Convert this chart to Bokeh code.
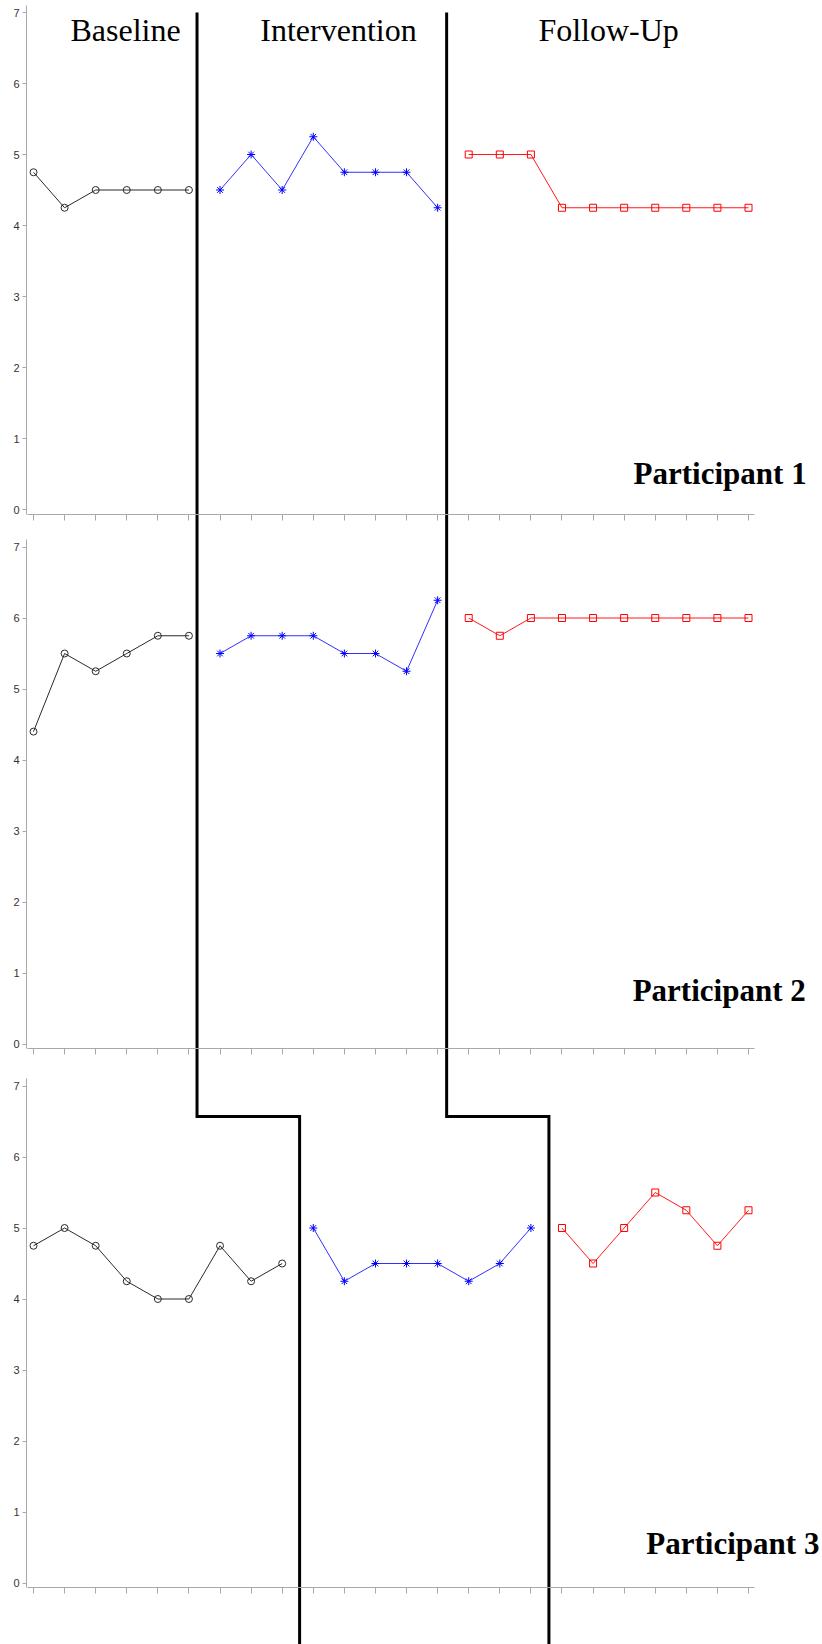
from bokeh.plotting import figure
from bokeh.models import Range1d, LinearAxis, FixedTicker, CustomJSTickFormatter
from bokeh.core.properties import value
from bokeh.embed import file_html
from bokeh.resources import INLINE

# ---------------- data ----------------
P1_BASELINE = [4.75, 4.25, 4.5, 4.5, 4.5, 4.5]
P1_INTERVENTION = [4.5, 5.0, 4.5, 5.25, 4.75, 4.75, 4.75, 4.25]
P1_FOLLOWUP = [5.0, 5.0, 5.0, 4.25, 4.25, 4.25, 4.25, 4.25, 4.25, 4.25]

P2_BASELINE = [4.4, 5.5, 5.25, 5.5, 5.75, 5.75]
P2_INTERVENTION = [5.5, 5.75, 5.75, 5.75, 5.5, 5.5, 5.25, 6.25]
P2_FOLLOWUP = [6.0, 5.75, 6.0, 6.0, 6.0, 6.0, 6.0, 6.0, 6.0, 6.0]

P3_BASELINE = [4.75, 5.0, 4.75, 4.25, 4.0, 4.0, 4.75, 4.25, 4.5]
P3_INTERVENTION = [5.0, 4.25, 4.5, 4.5, 4.5, 4.25, 4.5, 5.0]
P3_FOLLOWUP = [5.0, 4.5, 5.0, 5.5, 5.25, 4.75, 5.25]

PHASE_NAMES = ["Baseline", "Intervention", "Follow-Up"]
PARTICIPANTS = ["Participant 1", "Participant 2", "Participant 3"]
Y_TICKS = [0, 1, 2, 3, 4, 5, 6, 7]
N_SESSIONS = 24

# phase-change lines, in session units
PHASE_CHANGE_TOP = [6.26, 14.29]     # participants 1 and 2
PHASE_CHANGE_BOTTOM = [9.56, 17.58]  # participant 3

# ---------------- layout ----------------
W, H = 822, 1644
PX_PER_SESSION = 31.087
SESSION1_PX = 33.0
UNIT = 71.0
ZERO = {"p1": 509.0, "p2": 1043.5, "p3": 1582.5}
PHASE_STEP_LEVEL = 6.57   # level (participant-3 scale) of the step
AXIS_X = 0.775
AXIS_Y = -0.07

x_range = Range1d(1 - SESSION1_PX / PX_PER_SESSION, 1 + (W - SESSION1_PX) / PX_PER_SESSION)


def yr(name):
    z = ZERO[name]
    return Range1d(start=(z - H) / UNIT, end=z / UNIT)


p = figure(width=W, height=H, output_backend="svg", toolbar_location=None,
           x_range=x_range, y_range=yr("p3"), x_axis_type=None, y_axis_type=None,
           min_border=0, outline_line_color=None)
p.extra_y_ranges = {"p1": yr("p1"), "p2": yr("p2"), "p3": yr("p3")}
p.xgrid.visible = False
p.ygrid.visible = False
p.background_fill_color = "white"

AXIS_COLOR = "#a8a8a8"
sessions = list(range(1, N_SESSIONS + 1))

for name in ["p1", "p2", "p3"]:
    ya = LinearAxis(y_range_name=name, fixed_location=AXIS_X,
                    ticker=FixedTicker(ticks=Y_TICKS), bounds=(AXIS_Y, 7.1),
                    axis_line_color=AXIS_COLOR, major_tick_line_color=AXIS_COLOR,
                    major_tick_out=4, major_tick_in=0, minor_tick_line_color=None,
                    major_label_standoff=3, major_label_text_font="Liberation Sans",
                    major_label_text_font_size="11px", major_label_text_color="#333333")
    p.add_layout(ya, "left")
    xa = LinearAxis(y_range_name=name, fixed_location=AXIS_Y,
                    ticker=FixedTicker(ticks=sessions), bounds=(0.81, 24.19),
                    axis_line_color=AXIS_COLOR, major_tick_line_color=AXIS_COLOR,
                    major_tick_out=6, major_tick_in=0, minor_tick_line_color=None,
                    formatter=CustomJSTickFormatter(code="return ''"))
    p.add_layout(xa, "below")

series = {
    "p1": (P1_BASELINE, P1_INTERVENTION, P1_FOLLOWUP),
    "p2": (P2_BASELINE, P2_INTERVENTION, P2_FOLLOWUP),
    "p3": (P3_BASELINE, P3_INTERVENTION, P3_FOLLOWUP),
}

for name, (base, inter, follow) in series.items():
    nb, ni, nf = len(base), len(inter), len(follow)
    xb = list(range(1, nb + 1))
    xi = list(range(nb + 1, nb + ni + 1))
    xf = list(range(nb + ni + 1, nb + ni + nf + 1))
    p.line(xb, base, y_range_name=name, line_color="#2a2a2a", line_width=1)
    p.scatter(xb, base, y_range_name=name, marker="circle", size=7,
              line_color="#2a2a2a", fill_color=None, line_width=1)
    p.line(xi, inter, y_range_name=name, line_color="#3030ff", line_width=1)
    p.scatter(xi, inter, y_range_name=name, marker="asterisk", size=8,
              line_color="#0000ff", line_width=1)
    p.line(xf, follow, y_range_name=name, line_color="#ff1a1a", line_width=1)
    p.scatter(xf, follow, y_range_name=name, marker="square", size=7,
              line_color="#ff0000", fill_color=None, line_width=1)

# phase-change lines drawn on participant-3 scale
y_top = 7.0 + (ZERO["p3"] - ZERO["p1"]) / UNIT
y_bottom = (ZERO["p3"] - H) / UNIT - 1
for xt, xb3 in zip(PHASE_CHANGE_TOP, PHASE_CHANGE_BOTTOM):
    p.line([xt, xt, xb3, xb3], [y_top, PHASE_STEP_LEVEL, PHASE_STEP_LEVEL, y_bottom],
           y_range_name="p3", line_color="black", line_width=3, line_join="miter")

# phase titles
p.text(x=[3.96, 10.81, 19.50], y=[6.75, 6.75, 6.75], text=PHASE_NAMES, y_range_name="p1",
       text_font=value("Liberation Serif"), text_font_size="32px", text_align="center",
       text_baseline="alphabetic", text_color="black")

# participant labels
for name, label, x, y in zip(["p1", "p2", "p3"], PARTICIPANTS,
                             [25.87, 25.84, 26.28], [0.51, 0.76, 0.56]):
    p.text(x=[x], y=[y], text=[label], y_range_name=name,
           text_font=value("Liberation Serif"), text_font_size="31px",
           text_font_style="bold", text_align="right", text_baseline="alphabetic",
           text_color="black")

open("out.html", "w").write(file_html(p, INLINE))
